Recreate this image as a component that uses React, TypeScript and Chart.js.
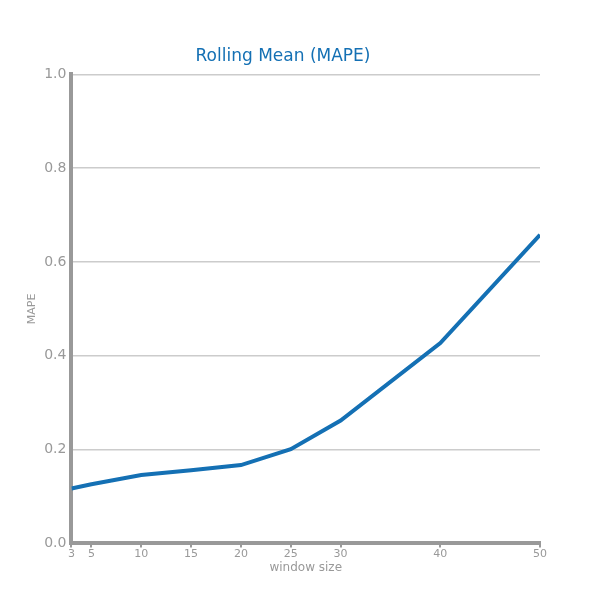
import React, { useEffect, useRef } from 'react';
import { Chart, registerables } from 'chart.js';

Chart.register(...registerables);

const windowSizes = [3, 5, 10, 15, 20, 25, 30, 40, 50];
const mapeValues = [0.117, 0.126, 0.146, 0.156, 0.167, 0.201, 0.262, 0.427, 0.658];
const xTicks = [3, 5, 10, 15, 20, 25, 30, 40, 50];

const App: React.FC = () => {
  const canvasRef = useRef<HTMLCanvasElement>(null);

  useEffect(() => {
    if (!canvasRef.current) return;
    const chart = new Chart(canvasRef.current, {
      type: 'line',
      data: {
        datasets: [{
          data: windowSizes.map((x, i) => ({ x, y: mapeValues[i] })),
          borderColor: '#1470b4',
          borderWidth: 4,
          pointRadius: 0,
          tension: 0,
        }],
      },
      options: {
        animation: false,
        responsive: false,
        layout: { padding: { left: 26, right: 60, top: 46, bottom: 25 } },
        plugins: {
          legend: { display: false },
          title: {
            display: true,
            text: 'Rolling Mean (MAPE)',
            color: '#1470b4',
            font: { family: 'DejaVu Sans', size: 17, weight: 'normal' },
            padding: { top: 0, bottom: 8 },
          },
        },
        scales: {
          x: {
            type: 'linear',
            min: 3,
            max: 50,
            afterBuildTicks: (axis) => { axis.ticks = xTicks.map(v => ({ value: v })); },
            grid: { display: true, drawOnChartArea: false, drawTicks: true, tickLength: 4, color: '#999', lineWidth: 2 },
            border: { color: '#999', width: 4 },
            ticks: { color: '#999', font: { family: 'DejaVu Sans', size: 11 }, maxRotation: 0, padding: 0 },
            title: { display: true, text: 'window size', color: '#999', font: { family: 'DejaVu Sans', size: 12 }, padding: 0 },
          },
          y: {
            min: 0,
            max: 1,
            ticks: { stepSize: 0.2, color: '#999', font: { family: 'DejaVu Sans', size: 14 }, callback: (v) => Number(v).toFixed(1), padding: 5 },
            grid: { color: '#ccc', lineWidth: 1.5, drawTicks: false },
            border: { color: '#999', width: 4 },
            title: { display: true, text: 'MAPE', color: '#999', font: { family: 'DejaVu Sans', size: 11 }, padding: 0 },
          },
        },
      },
    });
    return () => chart.destroy();
  }, []);

  return (
    <div style={{ position: 'fixed', left: 0, top: 0, width: 600, height: 600, background: '#fff' }}>
      <canvas ref={canvasRef} width={600} height={600} />
    </div>
  );
};

export default App;
